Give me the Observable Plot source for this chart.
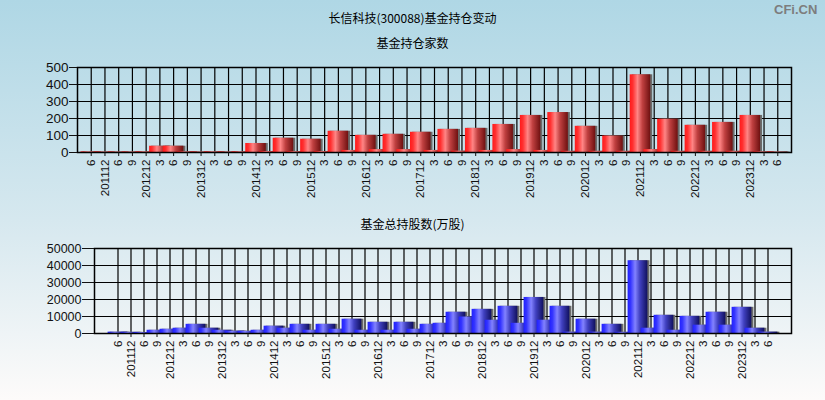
<!DOCTYPE html>
<html><head><meta charset="utf-8">
<script src="https://cdn.jsdelivr.net/npm/d3@7"></script>
<script src="https://cdn.jsdelivr.net/npm/@observablehq/plot@0.6"></script>
<style>
body{margin:0;}
#wrap{position:relative;width:825px;height:400px;overflow:hidden;background:linear-gradient(to bottom,#afd7e5 0%,#d6e8ef 55%,#fdfbfa 100%);font-family:"Noto Sans CJK SC",sans-serif;}
.t{position:absolute;left:0;width:825px;text-align:center;font-size:12px;color:#000;line-height:14px;}
#wm{position:absolute;left:774px;top:2px;font:bold 13px "Liberation Sans",Arial,sans-serif;color:#7d7d7d;}
#c1{position:absolute;left:0;top:50px;}
#c2{position:absolute;left:0;top:230px;}
</style></head>
<body>
<div id="wrap">
  <div class="t" style="top:11px">长信科技(300088)基金持仓变动</div>
  <div class="t" style="top:36px">基金持仓家数</div>
  <div class="t" style="top:217px">基金总持股数(万股)</div>
  <div id="wm">CFi.CN</div>
  <div id="c1"></div>
  <div id="c2"></div>
</div>
<script>
const quarters = ["201106","201112","201206","201209","201212","201303","201306","201309","201312","201403","201406","201409","201412","201503","201506","201509","201512","201603","201606","201609","201612","201703","201706","201709","201712","201803","201806","201809","201812","201903","201906","201909","201912","202003","202006","202009","202012","202103","202106","202109","202112","202203","202206","202209","202212","202303","202306","202309","202312","202403","202406"];
const fundCount = [4,3,3,3,4,37,37,4,3,4,3,4,53,6,84,5,78,6,125,12,101,17,107,17,119,12,136,8,142,12,165,17,218,12,235,7,154,7,97,7,457,17,196,7,160,7,177,7,218,4,3];
const totalShares = [800,700,600,1900,2500,3100,5400,3100,1900,1400,1300,1900,4300,3100,5400,1900,5400,2500,8400,1900,6600,1900,6600,2500,5400,6000,12500,9700,14200,7800,16000,6000,21200,7800,16000,800,8400,800,5400,700,42800,3100,10700,1900,10100,4900,12500,4900,15400,3100,800];
const countTicks = [0,100,200,300,400,500];
const shareTicks = [0,10000,20000,30000,40000,50000];

const tickLabel = q => q.endsWith("12") ? q : String(+q.slice(4));

function addGrad(svg, id, stops) {
  const ns = "http://www.w3.org/2000/svg";
  const defs = document.createElementNS(ns, "defs");
  const g = document.createElementNS(ns, "linearGradient");
  g.setAttribute("id", id);
  g.setAttribute("x1", "0"); g.setAttribute("y1", "0");
  g.setAttribute("x2", "1"); g.setAttribute("y2", "0");
  for (const [o, c] of stops) {
    const s = document.createElementNS(ns, "stop");
    s.setAttribute("offset", o); s.setAttribute("stop-color", c);
    g.appendChild(s);
  }
  defs.appendChild(g);
  svg.insertBefore(defs, svg.firstChild);
}

function chart({values, ticks, max, gradId, marginLeft, marginTop, marginBottom, height, yFont, ySize}) {
  const data = quarters.map((q, i) => ({q, v: values[i]}));
  const inset = -3.4;
  return Plot.plot({
    width: 825, height, marginLeft, marginRight: 34, marginTop, marginBottom,
    style: {background: "transparent", fontFamily: "Liberation Sans, Arial, sans-serif", color: "#111", overflow: "visible"},
    x: {type: "band", domain: quarters, paddingInner: 0, paddingOuter: 0.5},
    y: {domain: [0, max]},
    marks: [
      Plot.ruleX(quarters, {x: d => d, stroke: "#000", strokeWidth: 1.2}),
      Plot.ruleY(ticks, {y: d => d, stroke: "#000", strokeWidth: 1.2}),
      Plot.barY(data, {x: "q", y: "v", fill: "#6a6a6a", dx: 2, insetLeft: inset, insetRight: inset}),
      Plot.barY(data, {x: "q", y: "v", fill: `url(#${gradId})`, insetLeft: inset, insetRight: inset}),
      Plot.frame({stroke: "#000", strokeWidth: 1.5}),
      Plot.axisY({ticks, tickSize: ySize, tickPadding: 1, fontSize: yFont, label: null, tickFormat: d => String(d)}),
      Plot.axisX({tickSize: 4, tickPadding: 3, tickRotate: -90, fontSize: 11.5, label: null, tickFormat: tickLabel})
    ]
  });
}

const p1 = chart({values: fundCount, ticks: countTicks, max: 500, gradId: "gRed", marginLeft: 77, marginTop: 17, marginBottom: 58, height: 160, yFont: 13.5, ySize: 8});
addGrad(p1, "gRed", [[0, "#ff1a1a"], [0.15, "#ff3030"], [0.38, "#ff8585"], [0.62, "#c04040"], [1, "#6e1010"]]);
document.getElementById("c1").appendChild(p1);

const p2 = chart({values: totalShares, ticks: shareTicks, max: 50000, gradId: "gBlue", marginLeft: 94, marginTop: 18, marginBottom: 67, height: 170, yFont: 12.5, ySize: 12});
addGrad(p2, "gBlue", [[0, "#2020ff"], [0.15, "#3535ff"], [0.38, "#8282ff"], [0.62, "#4040c0"], [1, "#10105e"]]);
document.getElementById("c2").appendChild(p2);
</script>
</body></html>
